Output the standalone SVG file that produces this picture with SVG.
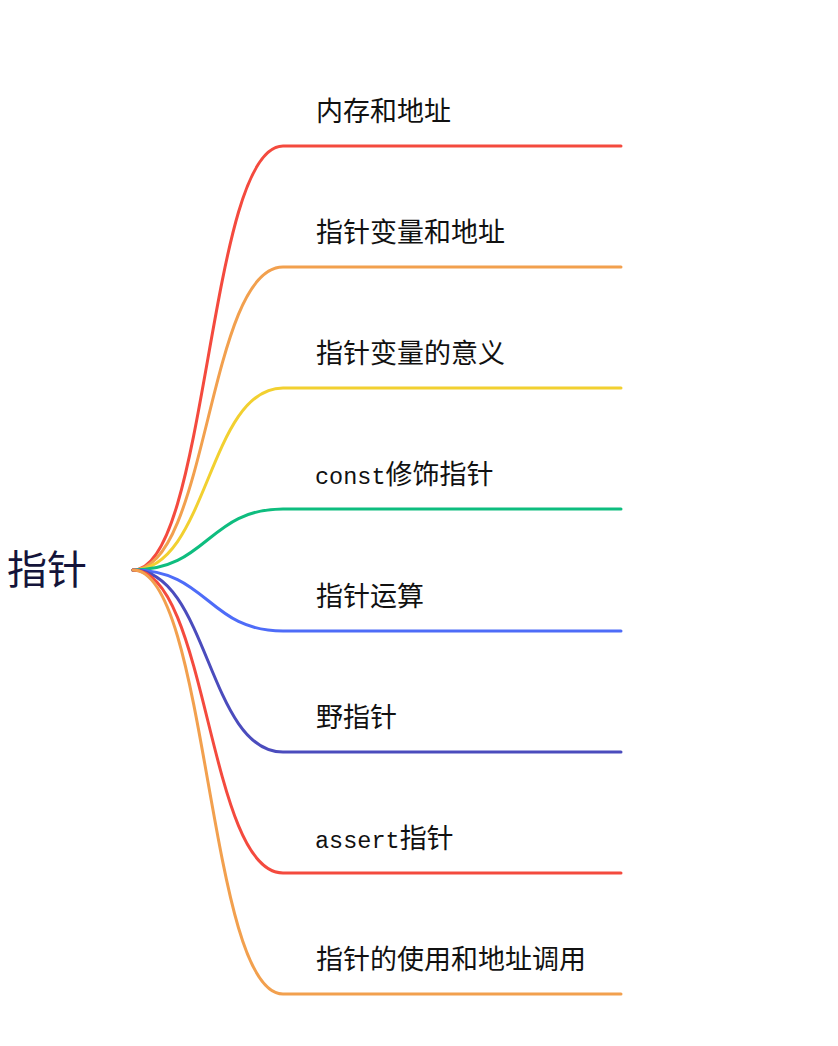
<svg xmlns="http://www.w3.org/2000/svg" width="838" height="1046" viewBox="0 0 838 1046">
<style>
.c{fill:none;stroke-width:3;stroke-linecap:round}
.t{font-family:"Noto Sans CJK SC",sans-serif;font-size:27px;fill:#111}
.m{font-family:"Liberation Mono",monospace;font-size:23.5px}
.root{font-family:"Noto Sans CJK SC",sans-serif;font-size:40px;fill:#14143a}
</style>
<rect width="838" height="1046" fill="#fff"/>
<g id="connectors">
<path class="c" stroke="#f44a3e" d="M133,570 C208,570 208,146 283,146 H621"/>
<path class="c" stroke="#f2a04e" d="M133,570 C208,570 208,267 283,267 H621"/>
<path class="c" stroke="#f2d030" d="M133,570 C208,570 208,388 283,388 H621"/>
<path class="c" stroke="#0ebd7f" d="M133,570 C208,570 208,509 283,509 H621"/>
<path class="c" stroke="#4e6cf8" d="M133,570 C208,570 208,631 283,631 H621"/>
<path class="c" stroke="#4b4cbd" d="M133,570 C208,570 208,752 283,752 H621"/>
<path class="c" stroke="#f44a3e" d="M133,570 C208,570 208,873 283,873 H621"/>
<path class="c" stroke="#f2a04e" d="M133,570 C208,570 208,994 283,994 H621"/>
</g>
<g id="root"><text class="root" x="7" y="584">指针</text></g>
<g id="n1"><text class="t" x="316" y="121">内存和地址</text></g>
<g id="n2"><text class="t" x="316" y="242">指针变量和地址</text></g>
<g id="n3"><text class="t" x="316" y="363">指针变量的意义</text></g>
<g id="n4"><text class="t" x="315" y="484"><tspan class="m">const</tspan>修饰指针</text></g>
<g id="n5"><text class="t" x="316" y="606">指针运算</text></g>
<g id="n6"><text class="t" x="316" y="727">野指针</text></g>
<g id="n7"><text class="t" x="315" y="848"><tspan class="m">assert</tspan>指针</text></g>
<g id="n8"><text class="t" x="316" y="969">指针的使用和地址调用</text></g>
</svg>
